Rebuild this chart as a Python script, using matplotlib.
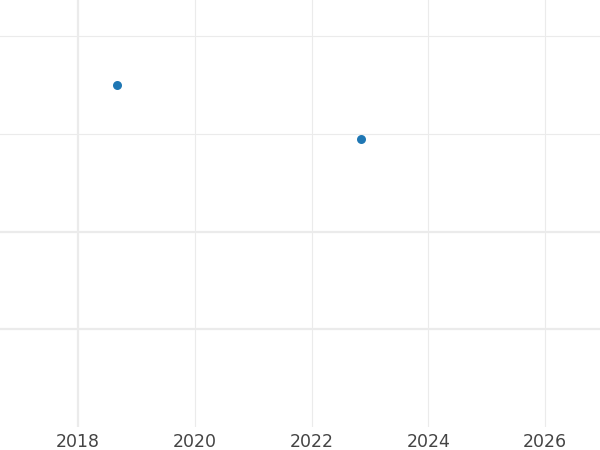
import matplotlib
matplotlib.use("Agg")
import matplotlib.pyplot as plt

# valores
anos = [2018.66, 2022.84]
valores = [3.50, 2.95]
xticks = [2018, 2020, 2022, 2024, 2026]
yticks = [1, 2, 3, 4]

fig = plt.figure(figsize=(6, 4.5), dpi=100)
ax = fig.add_axes([0, 23 / 450, 1, 427 / 450])

ax.set_xlim(2016.66, 2026.94)
ax.set_ylim(0, 4.37)

GRID = "#ebebeb"
for x in xticks:
    ax.axvline(x, color=GRID, lw=1.6 if x == 2018 else 0.8, zorder=0)
for y in yticks:
    ax.axhline(y, color=GRID, lw=1.6 if y in (1, 2) else 0.8, zorder=0)

ax.scatter(anos, valores, s=42, color="#1f77b4", zorder=3, linewidths=0)

ax.set_xticks(xticks)
ax.set_xticklabels([str(x) for x in xticks], fontsize=12.5, color="#444444")
ax.set_yticks([])
ax.tick_params(axis="x", length=0, pad=4)
for s in ax.spines.values():
    s.set_visible(False)

fig.savefig("out.png", dpi=100)
